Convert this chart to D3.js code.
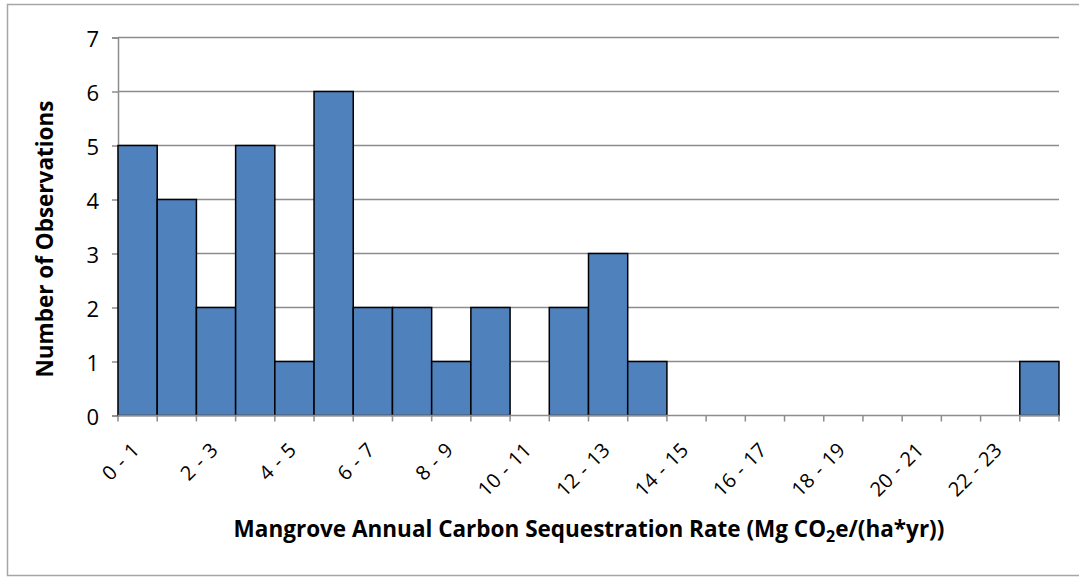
<!DOCTYPE html>
<html>
<head>
<meta charset="utf-8">
<script src="https://cdn.jsdelivr.net/npm/d3@7"></script>
<style>
  html, body { margin: 0; padding: 0; background: #fff; }
  svg { display: block; }
  text { font-family: "Open Sans", "Lato", sans-serif; fill: #000; }
</style>
</head>
<body>
<svg id="chart" width="1079" height="577"></svg>
<script>
const categories = ["0 - 1","1 - 2","2 - 3","3 - 4","4 - 5","5 - 6","6 - 7","7 - 8","8 - 9","9 - 10","10 - 11","11 - 12","12 - 13","13 - 14","14 - 15","15 - 16","16 - 17","17 - 18","18 - 19","19 - 20","20 - 21","21 - 22","22 - 23","23 - 24"];
const counts = [5,4,2,5,1,6,2,2,1,2,0,2,3,1,0,0,0,0,0,0,0,0,0,1];
const yTicks = [0,1,2,3,4,5,6,7];
const shownLabels = ["0 - 1","2 - 3","4 - 5","6 - 7","8 - 9","10 - 11","12 - 13","14 - 15","16 - 17","18 - 19","20 - 21","22 - 23"];

const svg = d3.select("#chart");
const m = { left: 118, right: 1059, top: 37.5, bottom: 415.5 };

// frame
svg.append("rect").attr("x", 7.5).attr("y", 4.5).attr("width", 1090).attr("height", 571)
  .attr("fill", "none").attr("stroke", "#a6a6a6").attr("stroke-width", 1.5);

const x = d3.scaleBand().domain(categories).range([m.left, m.right]).padding(0);
const y = d3.scaleLinear().domain([0, 7]).range([m.bottom, m.top]);

// gridlines
svg.append("g").selectAll("line").data(yTicks.filter(d => d > 0)).join("line")
  .attr("x1", m.left).attr("x2", m.right)
  .attr("y1", d => y(d)).attr("y2", d => y(d))
  .attr("stroke", "#8c8c8c").attr("stroke-width", 1.5);

// y axis
const yAxis = d3.axisLeft(y).tickValues(yTicks).tickSize(6).tickPadding(13).tickFormat(d3.format("d"));
const gy = svg.append("g").attr("transform", `translate(${m.left},0)`).call(yAxis);
gy.select(".domain").attr("stroke", "#8c8c8c").attr("stroke-width", 1.5);
gy.selectAll(".tick line").attr("stroke", "#8c8c8c").attr("stroke-width", 1.5);
gy.selectAll(".tick text").attr("font-size", 22).attr("font-family", "Open Sans, sans-serif")
  .attr("fill", "#000").attr("dy", "0.42em");

// bars
svg.append("g").selectAll("rect").data(counts.map((v, i) => ({ c: categories[i], v })).filter(d => d.v > 0)).join("rect")
  .attr("x", d => x(d.c)).attr("width", x.bandwidth())
  .attr("y", d => y(d.v)).attr("height", d => y(0) - y(d.v))
  .attr("fill", "#4f81bd").attr("stroke", "#000").attr("stroke-width", 1.5);

// x axis line and ticks at category boundaries
const gx = svg.append("g");
gx.append("line").attr("x1", m.left).attr("x2", m.right).attr("y1", y(0)).attr("y2", y(0))
  .attr("stroke", "#8c8c8c").attr("stroke-width", 1.5);
const bounds = categories.map(c => x(c)).concat([m.right]);
gx.selectAll("line.tk").data(bounds).join("line").attr("class", "tk")
  .attr("x1", d => d).attr("x2", d => d).attr("y1", y(0)).attr("y2", y(0) + 6)
  .attr("stroke", "#8c8c8c").attr("stroke-width", 1.5);

// x labels
gx.selectAll("text").data(shownLabels).join("text")
  .attr("transform", d => `translate(${x(d) + x.bandwidth() / 2 + 3},${y(0) + 36}) rotate(-45)`)
  .attr("text-anchor", "end")
  .attr("font-size", 20)
  .attr("word-spacing", 1.5)
  .text(d => d);

// y title
svg.append("text")
  .attr("transform", `translate(53,239) rotate(-90)`)
  .attr("text-anchor", "middle").attr("font-size", 22.5).attr("font-weight", "bold")
  .text("Number of Observations");

// x title
const xt = svg.append("text").attr("x", 589).attr("y", 537).attr("text-anchor", "middle")
  .attr("font-size", 22.5).attr("font-weight", "bold");
xt.append("tspan").text("Mangrove Annual Carbon Sequestration Rate (Mg CO");
xt.append("tspan").attr("dy", 5).attr("font-size", 16).text("2");
xt.append("tspan").attr("dy", -5).text("e/(ha*yr))");
</script>
</body>
</html>
